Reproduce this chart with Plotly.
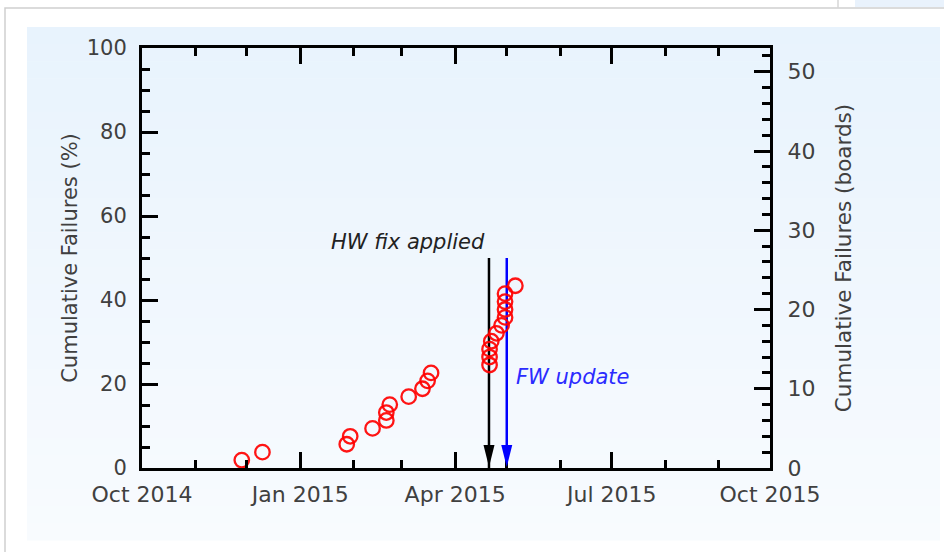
import plotly.graph_objects as go

# ---------------- data ----------------
failure_dates = [
    "2014-11-28", "2014-12-10",
    "2015-01-28", "2015-01-30", "2015-02-12", "2015-02-20", "2015-02-20",
    "2015-02-22", "2015-03-05", "2015-03-13", "2015-03-16", "2015-03-18",
    "2015-04-21", "2015-04-21", "2015-04-21", "2015-04-22", "2015-04-25",
    "2015-04-28", "2015-04-30", "2015-04-30", "2015-04-30", "2015-04-30",
    "2015-05-06",
]
cumulative_boards = [1, 2, 3, 4, 5, 6, 7, 8, 9, 10, 11, 12,
                     13, 14, 15, 16, 17, 18, 19, 20, 21, 22, 23]
total_boards = 53

x_tick_dates = ["2014-10-01", "2015-01-01", "2015-04-01", "2015-07-01", "2015-10-01"]
x_tick_labels = ["Oct 2014", "Jan 2015", "Apr 2015", "Jul 2015", "Oct 2015"]
x_range = ["2014-10-01", "2015-10-01"]

event_labels = ["HW fix applied", "FW update"]
event_dates = ["2015-04-20 16:00", "2015-05-01"]
event_top_pct = [50, 50]
event_colors = ["#000000", "#0000ff"]
event_text_colors = ["#222222", "#2b2bff"]

# ---------------- figure ----------------
FONT = "DejaVu Sans"
TXT = "#404040"
W, H = 944, 552
L, R, T, B = 142, 174, 48, 84
PW, PH = W - L - R, H - T - B


def px2paper_x(px):
    return (px - L) / PW


def px2paper_y(py):
    return (H - B - py) / PH


fig = go.Figure()

# event lines (left % axis)
for d, top, c in zip(event_dates, event_top_pct, event_colors):
    fig.add_trace(go.Scatter(x=[d, d], y=[top, 0], mode="lines",
                             line=dict(color=c, width=2.5),
                             hoverinfo="skip", showlegend=False, yaxis="y"))

# failures (right boards axis)
fig.add_trace(go.Scatter(
    x=failure_dates, y=cumulative_boards, mode="markers", yaxis="y2",
    marker=dict(symbol="circle-open", size=14.5, color="rgba(255,0,0,0.92)",
                line=dict(width=2.3, color="rgba(255,0,0,0.92)")),
    showlegend=False))

shapes = []
# screenshot-like card and panel background
shapes.append(dict(type="rect", xref="paper", yref="paper",
                   x0=px2paper_x(5), x1=px2paper_x(960), y0=px2paper_y(570), y1=px2paper_y(8),
                   line=dict(color="#cfcfcf", width=1.5), fillcolor="white", layer="below"))
nb = 30
top_px, bot_px = 27, 540
c0 = (232, 243, 253)
c1 = (248, 251, 254)
for i in range(nb):
    t = i / (nb - 1)
    col = tuple(round(c0[k] + (c1[k] - c0[k]) * t) for k in range(3))
    y_a = top_px + (bot_px - top_px) * i / nb
    y_b = top_px + (bot_px - top_px) * (i + 1) / nb
    shapes.append(dict(type="rect", xref="paper", yref="paper",
                       x0=px2paper_x(27), x1=px2paper_x(940),
                       y0=px2paper_y(y_b + 0.5), y1=px2paper_y(y_a),
                       line=dict(width=0), fillcolor="rgb(%d,%d,%d)" % col, layer="below"))
shapes.append(dict(type="line", xref="paper", yref="paper",
                   x0=px2paper_x(838), x1=px2paper_x(838), y0=px2paper_y(8), y1=px2paper_y(-5),
                   line=dict(color="#d6d6d6", width=1.5), layer="below"))
shapes.append(dict(type="rect", xref="paper", yref="paper",
                   x0=px2paper_x(855), x1=px2paper_x(950), y0=px2paper_y(7), y1=px2paper_y(-5),
                   line=dict(width=0), fillcolor="#e9f2fc", layer="below"))

# arrow heads
for d, c in zip(event_dates, event_colors):
    shapes.append(dict(type="path", xref="x", yref="y", xsizemode="pixel", ysizemode="pixel",
                       xanchor=d, yanchor=0, path="M-5.5,23 L5.5,23 L0,1 Z",
                       fillcolor=c, line=dict(width=0, color=c), layer="above"))

annotations = [
    dict(x=event_dates[0], y=event_top_pct[0], xref="x", yref="y", text=event_labels[0],
         showarrow=False, xanchor="right", yanchor="middle", xshift=-2, yshift=16,
         font=dict(family=FONT, size=21, color=event_text_colors[0], style="italic")),
    dict(x=event_dates[1], y=21.6, xref="x", yref="y", text=event_labels[1],
         showarrow=False, xanchor="left", yanchor="middle", xshift=7,
         font=dict(family=FONT, size=21, color=event_text_colors[1], style="italic")),
]

axis_common = dict(showgrid=False, zeroline=False, showline=True, linecolor="black",
                   linewidth=3, ticks="inside", tickcolor="black", tickwidth=2.5,
                   tickfont=dict(family=FONT, size=21, color=TXT))

fig.update_layout(
    width=W, height=H, autosize=False,
    margin=dict(l=L, r=R, t=T, b=B, pad=0),
    paper_bgcolor="white", plot_bgcolor="rgba(0,0,0,0)",
    font=dict(family=FONT, size=21, color=TXT),
    shapes=shapes, annotations=annotations,
    xaxis=dict(axis_common, type="date", range=x_range, tickmode="array",
               tickvals=x_tick_dates, ticktext=x_tick_labels, ticklen=16,
               tickfont=dict(family=FONT, size=22, color=TXT),
               mirror="ticks", ticklabelstandoff=5,
               minor=dict(tickmode="linear", tick0="2014-10-01", dtick="M1",
                          ticks="inside", ticklen=8, tickwidth=2.5, tickcolor="black")),
    yaxis=dict(axis_common, range=[0, 100], dtick=20, ticklen=16, ticklabelstandoff=8,
               minor=dict(dtick=5, ticks="inside", ticklen=8, tickwidth=2.5, tickcolor="black"),
               title=dict(text="Cumulative Failures (%)", standoff=4,
                          font=dict(family=FONT, size=21, color=TXT))),
    yaxis2=dict(axis_common, range=[0, total_boards], dtick=10, ticklen=16,
                overlaying="y", side="right", ticklabelstandoff=10,
                tickfont=dict(family=FONT, size=22, color=TXT),
                minor=dict(dtick=2, ticks="inside", ticklen=8, tickwidth=2.5, tickcolor="black"),
                title=dict(text="Cumulative Failures (boards)", standoff=22,
                           font=dict(family=FONT, size=21.5, color=TXT))),
)

fig.write_html("out.html", config={"displayModeBar": False},
               post_script="document.body.style.margin='0';document.body.style.overflow='hidden';")
